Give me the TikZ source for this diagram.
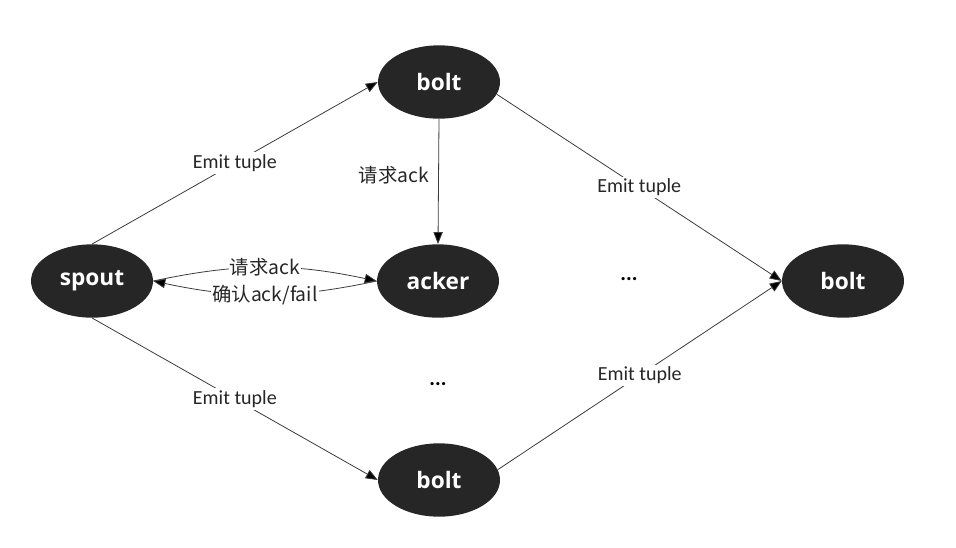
\documentclass[tikz,border=0pt]{standalone}
\usepackage{fontspec}
\setmainfont{Carlito}
\newfontfamily\cjk{Noto Sans CJK SC}
\newfontfamily\nodesans{Open Sans}
\usetikzlibrary{shapes.geometric,arrows.meta}

\definecolor{nodefill}{RGB}{38,38,38}
\definecolor{linegray}{RGB}{60,60,60}

\tikzset{
  proc/.style={ellipse, fill=nodefill, draw=none, minimum width=91.5pt, minimum height=55pt, inner sep=0pt,
    text=white, font=\nodesans\bfseries\fontsize{17}{20}\selectfont},
  flow/.style={draw=linegray, line width=0.6pt, -{Triangle[length=9,width=7,fill=black]}},
  lbl/.style={fill=white, inner sep=1.5pt, text=black!85, font=\fontsize{15}{18}\selectfont},
  cnlbl/.style={fill=white, inner sep=1pt, text=black!85, font=\cjk\fontsize{14.5}{17}\selectfont},
}

\begin{document}
\begin{tikzpicture}[x=0.75pt,y=0.75pt,yscale=-1,xscale=1]
    %set diagram size to the reference
    \useasboundingbox (0,0) rectangle (956,547);

    %Shape: Ellipse
    \node [proc] (spout) at (92,281) {spout};
    %Shape: Ellipse
    \node [proc] (btop) at (439,82) {bolt};
    %Shape: Ellipse
    \node [proc] (acker) at (438,281) {acker};
    %Shape: Ellipse
    \node [proc] (bright) at (843,281) {bolt};
    %Shape: Ellipse
    \node [proc] (bbot) at (439,480) {bolt};

    %Straight Lines
    \draw [flow] (spout.north) -- (btop.west) node [lbl, midway] {Emit tuple};
    %Straight Lines
    \draw [flow] (spout.south) -- (bbot.west) node [lbl, midway] {Emit tuple};
    %Straight Lines
    \draw [flow] (btop.-12) -- (bright.west) node [lbl, midway] {Emit tuple};
    %Straight Lines
    \draw [flow] (bbot.10) -- (bright.west) node [lbl, midway] {Emit tuple};
    %Straight Lines
    \draw [flow] (btop.south) -- (acker.north) node [cnlbl, pos=0.45, left=6pt] {请求ack};
    %Curve Lines
    \draw [flow] (spout.east) to [bend right=12] node [cnlbl, midway] {请求ack} (acker.west);
    %Curve Lines
    \draw [flow] (acker.west) to [bend right=12] node [cnlbl, midway] {确认ack/fail} (spout.east);

    % Text Node
    \node (dotsmid) at (629,279) {\fontsize{16}{18}\selectfont\bfseries ...};
    % Text Node
    \node (dotsbot) at (438,384) {\fontsize{16}{18}\selectfont\bfseries ...};
\end{tikzpicture}
\end{document}
